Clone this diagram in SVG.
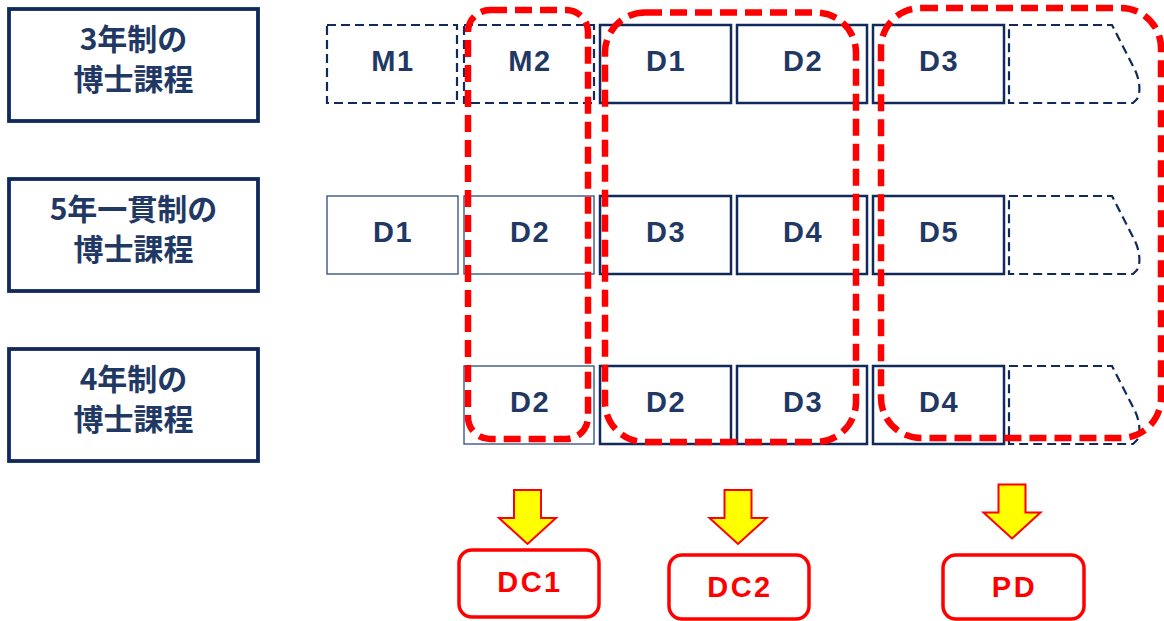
<svg xmlns="http://www.w3.org/2000/svg" width="1164" height="621" viewBox="0 0 1164 621">
  <style>
    .label-box { fill: #ffffff; stroke: #102a5c; stroke-width: 3.8; }
    .label { font-family: "Noto Sans CJK JP", "Noto Sans", sans-serif; font-weight: 700; font-size: 30px; fill: #1f3864; text-anchor: middle; }
    .year { fill: #ffffff; stroke: #102a5c; stroke-width: 2.5; }
    .year-thin { fill: #ffffff; stroke: #2b4a7f; stroke-width: 1.3; }
    .year-dash { fill: #ffffff; stroke: #102a5c; stroke-width: 2.2; stroke-dasharray: 9 5; }
    .ytxt { font-family: "Liberation Sans", Arial, sans-serif; font-weight: 700; font-size: 29px; fill: #1f3864; text-anchor: middle; letter-spacing: 1.5px; }
    .group-frame { fill: none; stroke: #ff0000; stroke-width: 6.5; stroke-dasharray: 17 8; }
    .arrow { fill: #ffff00; stroke: #ff0000; stroke-width: 2; stroke-linejoin: miter; }
    .out-box { fill: #ffffff; stroke: #ff0000; stroke-width: 3.5; }
    .out-txt { font-family: "Liberation Sans", Arial, sans-serif; font-weight: 700; font-size: 29px; fill: #ff0000; text-anchor: middle; letter-spacing: 2.5px; }
  </style>
  <defs>
    <!-- open-ended year slot with a bent upper-right corner -->
    <path id="tail" d="M0,0 H103 L125,43 C131,54 132,68 128,74 L124,78 H0 Z"/>
  </defs>

  <rect width="1164" height="621" fill="#ffffff"/>

  <!-- programme labels -->
  <g id="label-3yr">
    <rect class="label-box" x="9" y="9" width="249" height="112"/>
    <text class="label" x="133.5" y="50">3年制の</text>
    <text class="label" x="133.5" y="90">博士課程</text>
  </g>
  <g id="label-5yr">
    <rect class="label-box" x="9" y="179" width="249" height="112"/>
    <text class="label" x="133.5" y="220">5年一貫制の</text>
    <text class="label" x="133.5" y="260">博士課程</text>
  </g>
  <g id="label-4yr">
    <rect class="label-box" x="9" y="349" width="249" height="112"/>
    <text class="label" x="133.5" y="390">4年制の</text>
    <text class="label" x="133.5" y="430">博士課程</text>
  </g>

  <!-- row 1: 3-year programme -->
  <g id="r1-m1"><rect class="year-dash" x="327" y="25" width="130" height="78"/><text class="ytxt" x="393" y="71">M1</text></g>
  <g id="r1-m2"><rect class="year-dash" x="464" y="25" width="130" height="78"/><text class="ytxt" x="530" y="71">M2</text></g>
  <g id="r1-d1"><rect class="year" x="600" y="25" width="131" height="78"/><text class="ytxt" x="666" y="71">D1</text></g>
  <g id="r1-d2"><rect class="year" x="737" y="25" width="130" height="78"/><text class="ytxt" x="803" y="71">D2</text></g>
  <g id="r1-d3"><rect class="year" x="873" y="25" width="131" height="78"/><text class="ytxt" x="939" y="71">D3</text></g>
  <g id="r1-next"><use href="#tail" class="year-dash" x="1009" y="25"/></g>

  <!-- row 2: 5-year integrated programme -->
  <g id="r2-d1"><rect class="year-thin" x="327" y="196" width="131" height="78"/><text class="ytxt" x="393" y="242">D1</text></g>
  <g id="r2-d2"><rect class="year-thin" x="464" y="196" width="130" height="78"/><text class="ytxt" x="530" y="242">D2</text></g>
  <g id="r2-d3"><rect class="year" x="600" y="196" width="131" height="78"/><text class="ytxt" x="666" y="242">D3</text></g>
  <g id="r2-d4"><rect class="year" x="737" y="196" width="130" height="78"/><text class="ytxt" x="803" y="242">D4</text></g>
  <g id="r2-d5"><rect class="year" x="873" y="196" width="131" height="78"/><text class="ytxt" x="939" y="242">D5</text></g>
  <g id="r2-next"><use href="#tail" class="year-dash" x="1009" y="196"/></g>

  <!-- row 3: 4-year programme -->
  <g id="r3-d2a"><rect class="year-thin" x="464" y="366" width="130" height="78"/><text class="ytxt" x="530" y="412">D2</text></g>
  <g id="r3-d2b"><rect class="year" x="600" y="366" width="131" height="78"/><text class="ytxt" x="666" y="412">D2</text></g>
  <g id="r3-d3"><rect class="year" x="737" y="366" width="130" height="78"/><text class="ytxt" x="803" y="412">D3</text></g>
  <g id="r3-d4"><rect class="year" x="873" y="366" width="131" height="78"/><text class="ytxt" x="939" y="412">D4</text></g>
  <g id="r3-next"><use href="#tail" class="year-dash" x="1009" y="366"/></g>

  <!-- dashed groupings of year columns -->
  <g id="frame-dc1"><rect class="group-frame" x="468" y="10" width="120" height="429" rx="22"/></g>
  <g id="frame-dc2"><rect class="group-frame" x="605" y="12.5" width="251" height="429.5" rx="40"/></g>
  <g id="frame-pd"><rect class="group-frame" x="881" y="8" width="280" height="430" rx="40"/></g>

  <!-- block arrows -->
  <g id="connectors">
    <path class="arrow" d="M514,490 H541 V518 H556 L527.5,544 L499,518 H514 Z"/>
    <path class="arrow" d="M724.5,490 H751.5 V518 H766.5 L738,544 L709.5,518 H724.5 Z"/>
    <path class="arrow" d="M998.5,484.5 H1025.5 V512.5 H1040.5 L1012,538.5 L983.5,512.5 H998.5 Z"/>
  </g>

  <!-- outcome boxes -->
  <g id="out-dc1"><rect class="out-box" x="459" y="550" width="140" height="67" rx="13"/><text class="out-txt" x="530" y="592">DC1</text></g>
  <g id="out-dc2"><rect class="out-box" x="669" y="555" width="140" height="64" rx="13"/><text class="out-txt" x="740" y="597">DC2</text></g>
  <g id="out-pd"><rect class="out-box" x="943" y="555" width="141" height="64" rx="13"/><text class="out-txt" x="1014.5" y="597">PD</text></g>
</svg>
